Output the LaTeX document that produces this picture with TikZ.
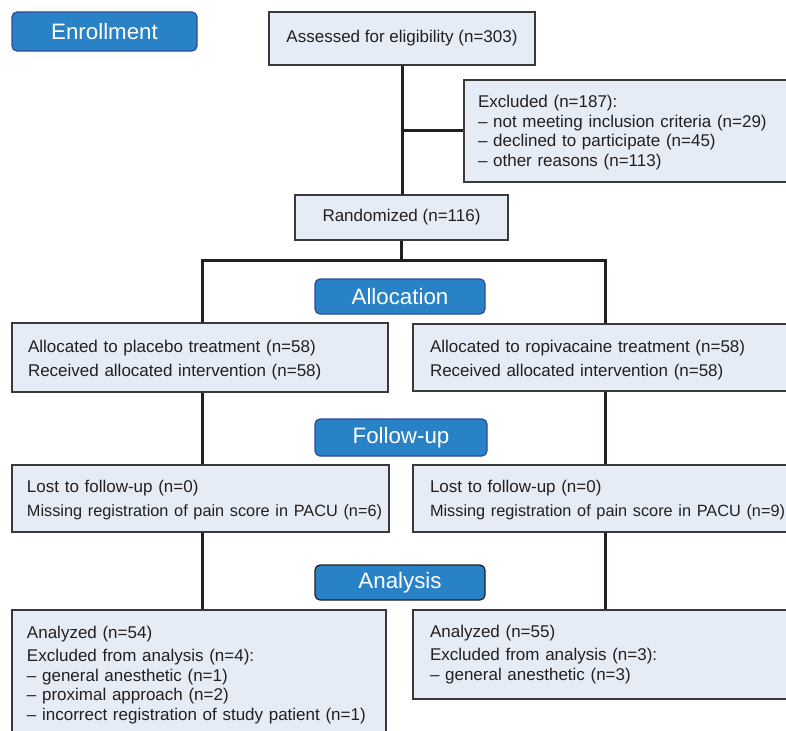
\documentclass[tikz,border=0pt]{standalone}
\usepackage{fontspec}
\setmainfont{Liberation Sans}
\definecolor{boxfill}{HTML}{E6ECF6}
\definecolor{boxline}{HTML}{3A3A3A}
\definecolor{labfill}{HTML}{2A82C6}
\definecolor{labline}{HTML}{2D4C9A}
\definecolor{linec}{HTML}{231F20}
\definecolor{textc}{HTML}{231F20}
\newcommand\bodyfont{\fontsize{17}{19.5}\selectfont}
\newcommand\pacufont{\fontsize{16.3}{19.5}\selectfont}
\newcommand\labfont{\fontsize{22.3}{24}\selectfont}
\newcommand\tstrut[1]{\rule{0pt}{#1}}
\begin{document}
\begin{tikzpicture}[x=1pt,y=-1pt,
  box/.style={draw=boxline, fill=boxfill, line width=1.1pt, rectangle, inner ysep=0pt, font=\bodyfont, text=textc},
  lbox/.style={box, align=left},
  lab/.style={draw=labline, fill=labfill, line width=1.2pt, rounded corners=5pt, text=white, font=\labfont, inner sep=0pt},
  conn/.style={draw=linec, line width=3pt}]
\useasboundingbox (0,0) rectangle (786,730);
\fill[white] (0,0) rectangle (786,730);
\clip (0,0) rectangle (786,730);
% stage labels
\node[lab, minimum width=185pt, minimum height=39pt] (enroll) at (104.5,31.5) {Enrollment};
\node[lab, minimum width=170pt, minimum height=35pt] (alloc) at (400,296.5) {Allocation};
\node[lab, minimum width=172pt, minimum height=37pt] (follow) at (401,437.5) {Follow-up};
\node[lab, draw=linec, minimum width=170pt, minimum height=35pt] (analysis) at (400,582.5) {Analysis};
% boxes
\node[box, minimum width=266pt, minimum height=53pt] (assess) at (402,38.5) {Assessed for eligibility (n=303)};
\node[lbox, minimum width=346pt, minimum height=102pt, text width=318pt, inner xsep=14pt] (excl) at (637,131)
  {\tstrut{15.4pt}Excluded (n=187):\\ -- not meeting inclusion criteria (n=29)\\ -- declined to participate (n=45)\\ -- other reasons (n=113)};
\node[box, minimum width=213pt, minimum height=45pt] (rand) at (401.5,217.5) {Randomized (n=116)};
\node[lbox, minimum width=376pt, minimum height=69pt, text width=344pt, inner xsep=16pt] (allocL) at (200,357.5)
  {\tstrut{18.4pt}Allocated to placebo treatment (n=58)\\[4.5pt] Received allocated intervention (n=58)};
\node[lbox, minimum width=397pt, minimum height=67pt, text width=363pt, inner xsep=17pt] (allocR) at (611.5,357.5)
  {\tstrut{18.4pt}Allocated to ropivacaine treatment (n=58)\\[4.5pt] Received allocated intervention (n=58)};
\node[lbox, minimum width=377pt, minimum height=67pt, text width=347pt, inner xsep=15pt] (lostL) at (200.5,498.5)
  {\tstrut{15.4pt}Lost to follow-up (n=0)\\[4.5pt] \mbox{\pacufont Missing registration of pain score in PACU (n=6)}};
\node[lbox, minimum width=397pt, minimum height=67pt, text width=363pt, inner xsep=17pt] (lostR) at (611.5,498.5)
  {\tstrut{15.4pt}Lost to follow-up (n=0)\\[4.5pt] \mbox{\pacufont Missing registration of pain score in PACU (n=9)}};
\node[lbox, minimum width=374pt, minimum height=130pt, text width=344pt, inner xsep=15pt] (anaL) at (199,675)
  {Analyzed (n=54)\\[3.5pt] Excluded from analysis (n=4):\\ -- general anesthetic (n=1)\\ -- proximal approach (n=2)\\ -- incorrect registration of study patient (n=1)};
\node[lbox, minimum width=397pt, minimum height=89pt, text width=363pt, inner xsep=17pt] (anaR) at (611.5,654.5)
  {Analyzed (n=55)\\[3.5pt] Excluded from analysis (n=3):\\ -- general anesthetic (n=3)};
% connectors
\coordinate (jl) at (202,260);
\coordinate (jr) at (605,260);
\coordinate (exj) at (assess.south |- excl.west);
\draw[conn] (assess.south) -- (assess.south |- rand.north);
\draw[conn] (exj) -- (excl.west);
\draw[conn] (rand.south) -- (rand.south |- jl);
\draw[conn] (allocL.north -| jl) -- (jl) -- (jr) -- (allocR.north -| jr);
\draw[conn] (allocL.south -| jl) -- (lostL.north -| jl);
\draw[conn] (allocR.south -| jr) -- (lostR.north -| jr);
\draw[conn] (lostL.south -| jl) -- (anaL.north -| jl);
\draw[conn] (lostR.south -| jr) -- (anaR.north -| jr);
\end{tikzpicture}
\end{document}
